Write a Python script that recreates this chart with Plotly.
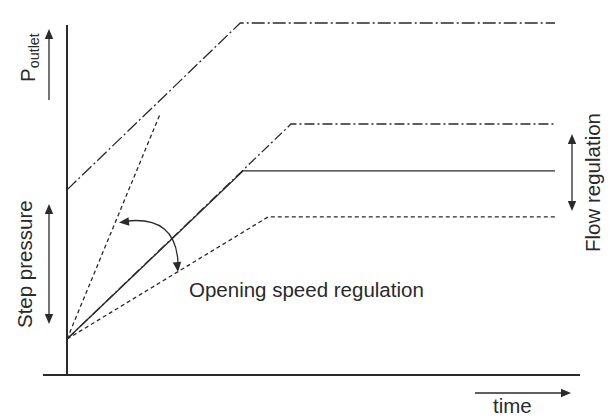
import math
import plotly.graph_objects as go

# ---------------- data (time / pressure, arbitrary units) ----------------
time_upper_fast = [0.0, 3.55, 10.0]      # dash-dot, high step pressure
p_upper_fast = [5.26, 10.0, 10.0]

time_upper_flow = [0.0, 4.59, 10.0]      # dash-dot, higher flow
p_upper_flow = [1.02, 7.13, 7.13]

time_nominal = [0.0, 3.61, 10.0]         # solid, nominal
p_nominal = [1.02, 5.80, 5.80]

time_lower_flow = [0.0, 4.12, 10.0]      # dashed, lower flow / slower opening
p_lower_flow = [1.02, 4.49, 4.49]

time_fast_open = [0.0, 1.90]             # dashed, fast opening
p_fast_open = [1.02, 7.39]

# ---------------- layout constants ----------------
W, H = 613, 418
X0_PX, PX_PER_T = 67.0, 48.8
Y0_PX, PX_PER_P = 375.0, 35.2
INK = "#2a2a2a"
FONT = "Liberation Sans, Arial, sans-serif"

xr = [-X0_PX / PX_PER_T, (W - X0_PX) / PX_PER_T]
yr = [-(H - Y0_PX) / PX_PER_P, Y0_PX / PX_PER_P]


def px(x):
    return x / W


def py(y):
    return 1 - y / H


def pt(x, y):
    return f"{px(x):.5f},{py(y):.5f}"


shapes = []


def seg(x1, y1, x2, y2, width=1.3, color=INK):
    shapes.append(dict(type="line", xref="paper", yref="paper",
                       x0=px(x1), y0=py(y1), x1=px(x2), y1=py(y2),
                       line=dict(color=color, width=width)))


def head(tx, ty, dx, dy, length=10, half=4.2):
    n = math.hypot(dx, dy)
    dx, dy = dx / n, dy / n
    bx, by = tx - length * dx, ty - length * dy
    nx, ny = -dy, dx
    path = (f"M{pt(tx, ty)} L{pt(bx + half * nx, by + half * ny)} "
            f"L{pt(bx - half * nx, by - half * ny)} Z")
    shapes.append(dict(type="path", xref="paper", yref="paper", path=path,
                       fillcolor=INK, line=dict(width=0)))


fig = go.Figure()

line_style = dict(color=INK, width=1.3)
fig.add_trace(go.Scatter(x=time_upper_fast, y=p_upper_fast, mode="lines",
                         line=dict(**line_style, dash="13px,3px,2px,3px")))
fig.add_trace(go.Scatter(x=time_upper_flow, y=p_upper_flow, mode="lines",
                         line=dict(**line_style, dash="10px,3px,2px,3px")))
fig.add_trace(go.Scatter(x=time_lower_flow, y=p_lower_flow, mode="lines",
                         line=dict(**line_style, dash="4px,3px")))
fig.add_trace(go.Scatter(x=time_fast_open, y=p_fast_open, mode="lines",
                         line=dict(**line_style, dash="4px,3px")))
fig.add_trace(go.Scatter(x=time_nominal, y=p_nominal, mode="lines",
                         line=dict(color=INK, width=1.4)))

# axes (schematic)
seg(67, 25, 67, 376, width=2)
seg(43, 375, 580, 375, width=2)

# P_outlet arrow
seg(49, 100, 49, 38)
head(49, 29, 0, -1)
# Step pressure double arrow
seg(49, 212, 49, 316)
head(49, 204, 0, -1)
head(49, 324, 0, 1)
# Flow regulation double arrow
seg(572, 142, 572, 203)
head(572, 134, 0, -1)
head(572, 211, 0, 1)
# time arrow
seg(475, 393, 563, 393)
head(571, 393, 1, 0)
# curved arrow (opening speed regulation)
shapes.append(dict(type="path", xref="paper", yref="paper",
                   path=f"M{pt(127, 221)} Q{pt(176, 216)} {pt(178, 263)}",
                   line=dict(color=INK, width=1.3)))
head(119, 222.5, -49, 5)
head(178, 272, 0.1, 1)

ann_font = dict(family=FONT, size=20.5, color=INK)
annotations = [
    dict(text="P<sub>outlet</sub>", x=px(29), y=py(58), textangle=-90),
    dict(text="Step pressure", x=px(24), y=py(264), textangle=-90),
    dict(text="Flow regulation", x=px(592), y=py(183), textangle=-90),
    dict(text="Opening speed regulation", x=px(307), y=py(289)),
    dict(text="time", x=px(512), y=py(405)),
]
for a in annotations:
    a.update(xref="paper", yref="paper", showarrow=False, font=ann_font,
             xanchor="center", yanchor="middle")

fig.update_layout(
    width=W, height=H, margin=dict(l=0, r=0, t=0, b=0),
    paper_bgcolor="white", plot_bgcolor="white", showlegend=False,
    xaxis=dict(range=xr, visible=False, fixedrange=True),
    yaxis=dict(range=yr, visible=False, fixedrange=True),
    shapes=shapes, annotations=annotations,
)

fig.write_html("out.html", config={"displayModeBar": False},
               post_script="document.body.style.margin='0';"
                           "document.body.style.overflow='hidden';")
